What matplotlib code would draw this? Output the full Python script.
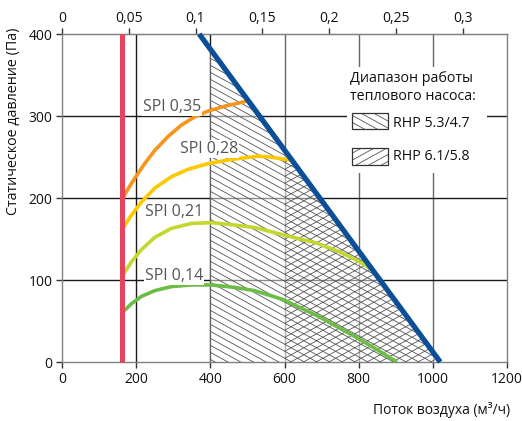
import matplotlib
matplotlib.use('Agg')
import matplotlib.pyplot as plt
from matplotlib.patches import Rectangle, Polygon
from matplotlib.collections import LineCollection
import numpy as np

plt.rcParams['font.family'] = ['Open Sans', 'DejaVu Sans']

# fan limit lines
red_x = [162, 162]
red_y = [0, 400]
blue_x = [370, 1020]
blue_y = [400, 0]

# SPI curves (m3/h, Pa)
spi35_x = [164, 178, 196, 223, 250, 286, 322, 358, 394, 439, 497]
spi35_y = [200, 211, 224, 242, 258, 275, 289, 299, 306, 312, 318]
spi28_x = [164, 187, 214, 250, 295, 340, 394, 457, 529, 561, 590, 619]
spi28_y = [163, 179, 195, 212, 226, 235, 242, 247, 251, 250, 248, 246]
spi21_x = [164, 187, 214, 250, 295, 349, 403, 466, 520, 597, 687, 750, 804, 838]
spi21_y = [106, 122, 137, 152, 163, 169, 170, 167, 164, 155, 145, 134, 122, 112]
spi14_x = [164, 187, 214, 250, 295, 349, 403, 466, 520, 597, 690, 786, 850, 903]
spi14_y = [61, 71, 80, 87, 92, 94, 94, 91, 87, 76, 56, 32, 15, 0]

curves = [
    (spi35_x, spi35_y, '#f7941d', 'SPI 0,35', 218, 311),
    (spi28_x, spi28_y, '#fcc800', 'SPI 0,28', 318, 260),
    (spi21_x, spi21_y, '#c3d82f', 'SPI 0,21', 224, 183),
    (spi14_x, spi14_y, '#6cbd45', 'SPI 0,14', 224, 105),
]

# heat pump ranges start (m3/h)
rhp1_start = 400
rhp2_start = 600

xticks = [0, 200, 400, 600, 800, 1000, 1200]
yticks = [0, 100, 200, 300, 400]
top_ticks = [0, 0.05, 0.1, 0.15, 0.2, 0.25, 0.3]
top_labels = ['0', '0,05', '0,1', '0,15', '0,2', '0,25', '0,3']

fig = plt.figure(figsize=(5.22, 4.21), dpi=100)
ax = fig.add_axes([0.1188, 0.1401, 0.8525, 0.7791])
ax.set_xlim(0, 1200)
ax.set_ylim(0, 400)
W, H = 445.0, 328.0  # axes size in px


def hatch(clip, sign, step=7.0, slope=0.55, zorder=3):
    # slanted hatch lines in axes px, clipped to a patch
    segs = []
    c = -slope * W - step
    while c < H + slope * W + step:
        if sign > 0:
            p0, p1 = (0, c), (W, c + slope * W)
        else:
            p0, p1 = (0, c), (W, c - slope * W)
        segs.append([(p0[0] / W, p0[1] / H), (p1[0] / W, p1[1] / H)])
        c += step
    lc = LineCollection(segs, colors='#555555', linewidths=0.6,
                        transform=ax.transAxes, zorder=zorder)
    ax.add_collection(lc, autolim=False)
    lc.set_clip_path(clip)


for x in xticks[1:-1]:
    ax.axvline(x, color='#1a1a1a' if x < 600 else '#666666', lw=1.0, zorder=1)
for y in yticks[1:-1]:
    ax.axhline(y, color='#1a1a1a', lw=1.0, zorder=1)

# hatched ranges bounded by the fan curve
top1 = np.interp(rhp1_start, blue_x, blue_y)
top2 = np.interp(rhp2_start, blue_x, blue_y)
reg1 = Polygon([(rhp1_start, 0), (rhp1_start, top1), (blue_x[1], 0)], closed=True,
               facecolor=(1, 1, 1, 0.5), edgecolor='none', zorder=2)
ax.add_patch(reg1)
reg2 = Polygon([(rhp2_start, 0), (rhp2_start, top2), (blue_x[1], 0)], closed=True,
               facecolor='none', edgecolor='none', zorder=2)
ax.add_patch(reg2)
hatch(reg1, -1)
hatch(reg2, +1)

for cx, cy, col, lab, tx, ty in curves:
    ax.plot(cx, cy, color=col, lw=2.6, solid_capstyle='butt', solid_joinstyle='round', zorder=4)
    ax.text(tx, ty, lab, color='#555555', fontsize=11.5, ha='left', va='center', zorder=5,
            bbox=dict(boxstyle='square,pad=0.05', facecolor='white', edgecolor='none'))

ax.plot(blue_x, blue_y, color='#0a4f97', lw=3.8, solid_capstyle='butt', zorder=5, clip_on=False)
ax.plot(red_x, red_y, color='#e8435a', lw=3.6, solid_capstyle='butt', zorder=5, clip_on=False)

for s in ax.spines.values():
    s.set_color('#808080')
    s.set_linewidth(1.0)

ax.set_xticks(xticks)
ax.set_yticks(yticks)
ax.tick_params(direction='out', length=4, width=1, color='#333333',
               labelsize=10, labelcolor='#111111', pad=3)

sec = ax.secondary_xaxis('top', functions=(lambda v: v / 3600, lambda v: v * 3600))
sec.set_xticks(top_ticks)
sec.set_xticklabels(top_labels)
sec.tick_params(direction='out', length=4, width=1, color='#333333',
                labelsize=10, labelcolor='#111111', pad=2)
sec.spines['top'].set_color('#808080')

ax.text(-0.108, 0.735, 'Статическое давление (Па)', transform=ax.transAxes,
        rotation=90, ha='center', va='center', fontsize=10.3, color='#111111')
ax.text(1.007, -0.146, 'Поток воздуха (м³/ч)', transform=ax.transAxes,
        ha='right', va='center', fontsize=10, color='#111111')

# legend box
ax.add_patch(Rectangle((0.640, 0.576), 0.315, 0.323, transform=ax.transAxes,
                       facecolor='white', edgecolor='none', zorder=6))
ax.text(0.647, 0.865, 'Диапазон работы', transform=ax.transAxes,
        ha='left', va='center', fontsize=10.3, color='#111111', zorder=7)
ax.text(0.647, 0.809, 'теплового насоса:', transform=ax.transAxes,
        ha='left', va='center', fontsize=10.3, color='#111111', zorder=7)
leg1 = Rectangle((0.652, 0.710), 0.081, 0.049, transform=ax.transAxes,
                 facecolor='none', edgecolor='#333333', lw=0.9, zorder=8)
leg2 = Rectangle((0.652, 0.601), 0.081, 0.051, transform=ax.transAxes,
                 facecolor='none', edgecolor='#333333', lw=0.9, zorder=8)
ax.add_patch(leg1)
ax.add_patch(leg2)
hatch(leg1, -1, zorder=7)
hatch(leg2, +1, zorder=7)
ax.text(0.744, 0.726, 'RHP 5.3/4.7', transform=ax.transAxes,
        ha='left', va='center', fontsize=10.3, color='#111111', zorder=7)
ax.text(0.744, 0.626, 'RHP 6.1/5.8', transform=ax.transAxes,
        ha='left', va='center', fontsize=10.3, color='#111111', zorder=7)

fig.savefig('out.png', dpi=100)
